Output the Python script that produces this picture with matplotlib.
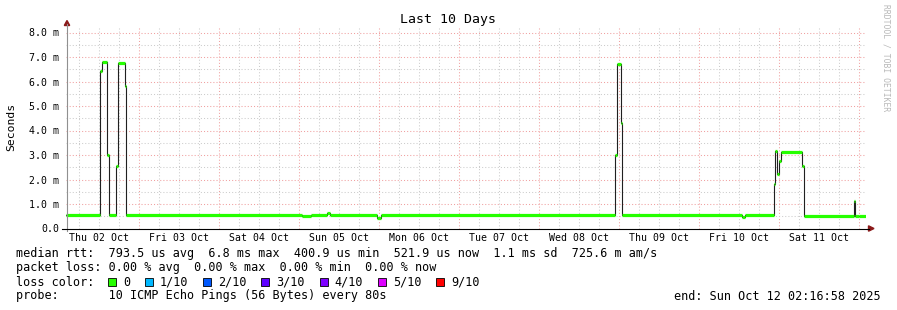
import pandas as pd
import matplotlib
matplotlib.use("Agg")
import matplotlib.pyplot as plt
import matplotlib.dates as mdates
from matplotlib.patches import Rectangle, Polygon
from matplotlib.lines import Line2D

# -----------------------------------------------------------
# datos
# -----------------------------------------------------------
start_time = "2025-10-02 02:16:58"
end_time = "2025-10-12 02:16:58"

# cambios de la mediana (escalon), en ms
change_times = [
    "2025-10-02 02:17", "2025-10-02 12:23", "2025-10-02 13:06", "2025-10-02 14:24",
    "2025-10-02 15:12", "2025-10-02 17:11", "2025-10-02 17:47", "2025-10-02 19:48",
    "2025-10-02 20:11", "2025-10-05 01:00", "2025-10-05 03:40", "2025-10-05 08:30",
    "2025-10-05 09:20", "2025-10-05 23:30", "2025-10-06 00:50", "2025-10-08 22:53",
    "2025-10-08 23:29", "2025-10-09 00:48", "2025-10-09 01:06", "2025-10-10 13:06",
    "2025-10-10 14:00", "2025-10-10 22:35", "2025-10-10 22:53", "2025-10-10 23:24",
    "2025-10-11 00:00", "2025-10-11 00:41", "2025-10-11 06:59", "2025-10-11 07:30",
    "2025-10-11 22:35", "2025-10-11 23:01", "2025-10-12 00:00",
]
median_ms = [
    0.55, 6.42, 6.80, 2.98,
    0.55, 2.57, 6.77, 5.81,
    0.55, 0.52, 0.55, 0.62,
    0.55, 0.41, 0.55, 2.98,
    6.73, 4.31, 0.55, 0.46,
    0.55, 1.80, 3.15, 2.23,
    2.75, 3.14, 2.57, 0.53,
    1.11, 0.53, 0.50,
]

day_dates = ["2025-10-02", "2025-10-03", "2025-10-04", "2025-10-05", "2025-10-06",
             "2025-10-07", "2025-10-08", "2025-10-09", "2025-10-10", "2025-10-11"]
day_labels = ["Thu 02 Oct", "Fri 03 Oct", "Sat 04 Oct", "Sun 05 Oct", "Mon 06 Oct",
              "Tue 07 Oct", "Wed 08 Oct", "Thu 09 Oct", "Fri 10 Oct", "Sat 11 Oct"]

y_ticks = [0, 1, 2, 3, 4, 5, 6, 7, 8]
y_tick_labels = ["0.0", "1.0 m", "2.0 m", "3.0 m", "4.0 m", "5.0 m", "6.0 m", "7.0 m", "8.0 m"]

legend_lines = [
    "median rtt:  793.5 us avg  6.8 ms max  400.9 us min  521.9 us now  1.1 ms sd  725.6 m am/s",
    "packet loss: 0.00 % avg  0.00 % max  0.00 % min  0.00 % now",
]
loss_labels = ["0", "1/10", "2/10", "3/10", "4/10", "5/10", "9/10"]
loss_colors = ["#26ff00", "#00b8ff", "#0059ff", "#5e00ff", "#7e00ff", "#dd00ff", "#ff0000"]
probe_text = "probe:       10 ICMP Echo Pings (56 Bytes) every 80s"
end_text = "end: Sun Oct 12 02:16:58 2025"

# -----------------------------------------------------------
# figura
# -----------------------------------------------------------
W, H = 897, 310
MONO = "DejaVu Sans Mono"
plt.rcParams["font.family"] = MONO


def fx(x):
    return x / W


def fy(y):
    return 1 - y / H


fig = plt.figure(figsize=(W / 100, H / 100), dpi=100)
fig.patch.set_facecolor("white")

left_px, right_px, top_px, bottom_px = 66.3, 866.3, 26, 228.5
ax = fig.add_axes([fx(left_px), fy(bottom_px), (right_px - left_px) / W, (bottom_px - top_px) / H])
ax.set_facecolor("white")

t = pd.to_datetime(change_times)
t_end = pd.to_datetime(end_time)
t_all = list(t) + [t_end]
vals = list(median_ms) + [median_ms[-1]]

ax.set_xlim(pd.to_datetime(start_time), t_end)
ax.set_ylim(0, (bottom_px - top_px) / 24.5)

# rejilla
ax.xaxis.set_major_locator(mdates.DayLocator())
ax.xaxis.set_minor_locator(mdates.HourLocator(byhour=[6, 12, 18]))
ax.set_yticks(y_ticks)
ax.set_yticklabels(y_tick_labels)
ax.set_yticks([v + 0.5 for v in y_ticks[:-1]], minor=True)
ax.grid(which="major", color="#f0a0a0", linestyle=(0, (1, 2)), linewidth=0.75, zorder=0)
ax.grid(which="minor", color="#cccccc", linestyle=(0, (1, 2)), linewidth=0.75, zorder=0)
ax.tick_params(which="both", length=0)
ax.tick_params(axis="x", labelbottom=False)
ax.tick_params(axis="y", labelsize=7.1, pad=5)
for s in ax.spines.values():
    s.set_visible(False)

# datos
ax.step(t_all, vals, where="post", color="#202020", linewidth=0.8, zorder=3)
ax.hlines(median_ms, t_all[:-1], t_all[1:], color=loss_colors[0], linewidth=2.3, zorder=4)

# etiquetas de dias
for d, lab in zip(day_dates, day_labels):
    ax.text(pd.to_datetime(d) + pd.Timedelta(hours=12), -9.5 / (bottom_px - top_px), lab,
            transform=ax.get_xaxis_transform(), ha="center", va="center", fontsize=7.1)

# ejes con flechas
fig.add_artist(Line2D([fx(66.7), fx(66.7)], [fy(231), fy(24)], color="#909090", linewidth=0.8))
fig.add_artist(Line2D([fx(62), fx(869)], [fy(228.5), fy(228.5)], color="black", linewidth=0.8))
fig.add_artist(Polygon([[fx(67), fy(20.5)], [fx(64.3), fy(25.5)], [fx(69.7), fy(25.5)]],
                       closed=True, color="#8b1a1a", transform=fig.transFigure))
fig.add_artist(Polygon([[fx(874), fy(228.5)], [fx(868.5), fy(225.8)], [fx(868.5), fy(231.2)]],
                       closed=True, color="#8b1a1a", transform=fig.transFigure))

# titulos
fig.text(fx(448), fy(19), "Last 10 Days", ha="center", va="center", fontsize=9.5)
fig.text(fx(11), fy(127), "Seconds", ha="center", va="center", rotation=90, fontsize=8.2)
fig.text(fx(886), fy(4), "RRDTOOL / TOBI OETIKER", ha="center", va="top", rotation=-90,
         fontsize=5.8, color="#b8b8b8")

# leyenda
fs = 8.5
cw = 7.1
fig.text(fx(16), fy(254), legend_lines[0], ha="left", va="center", fontsize=fs)
fig.text(fx(16), fy(268), legend_lines[1], ha="left", va="center", fontsize=fs)
fig.text(fx(16), fy(282), "loss color:", ha="left", va="center", fontsize=fs)
x = 108
for lab, col in zip(loss_labels, loss_colors):
    fig.add_artist(Rectangle((fx(x), fy(286)), 8 / W, 8 / H, facecolor=col, edgecolor="black",
                             linewidth=0.6, transform=fig.transFigure))
    fig.text(fx(x + 15), fy(282), lab, ha="left", va="center", fontsize=fs)
    x = x + 15 + len(lab) * cw + 14.8
fig.text(fx(16), fy(296), probe_text, ha="left", va="center", fontsize=fs)
fig.text(fx(881), fy(296), end_text, ha="right", va="center", fontsize=fs)

fig.savefig("out.png", dpi=100, facecolor="white")
